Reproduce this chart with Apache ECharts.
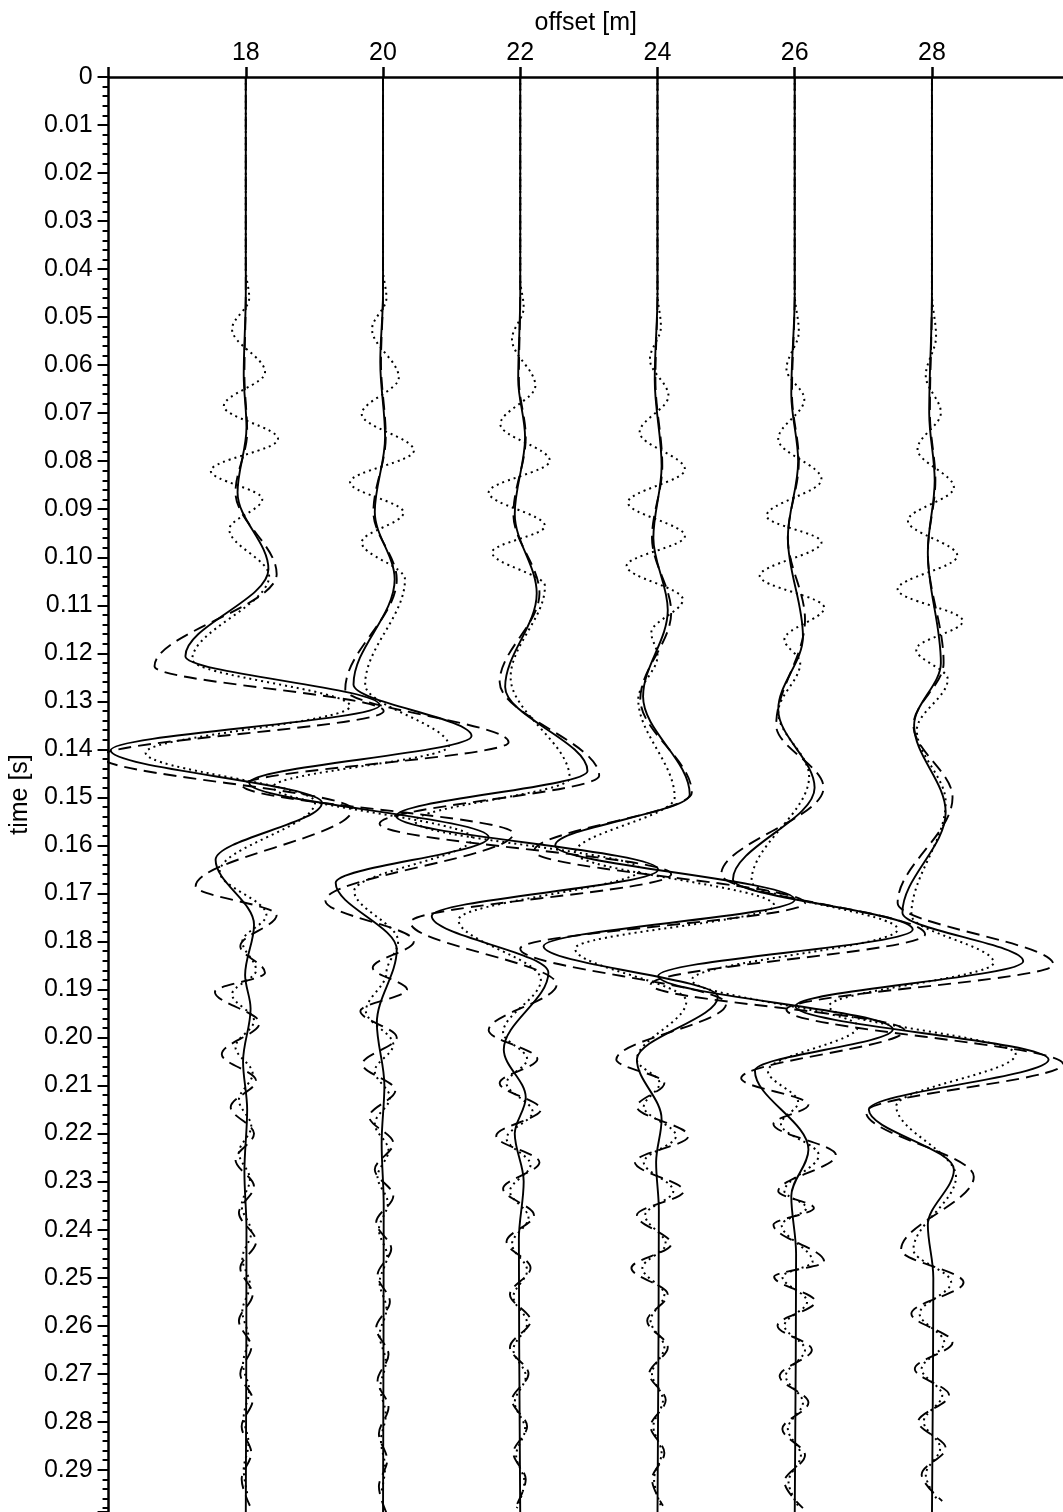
<!DOCTYPE html>
<html>
<head>
<meta charset="utf-8">
<script src="https://cdn.jsdelivr.net/npm/echarts@6/dist/echarts.min.js"></script>
<style>
  html, body { margin: 0; padding: 0; background: #fff; }
  #chart { width: 1063px; height: 1512px; }
</style>
</head>
<body>
<div id="chart"></div>
<script>
// Receiver offsets (m) and the tick labels of the offset axis
const offsets = [18, 20, 22, 24, 26, 28];
const offsetTicks = [18, 20, 22, 24, 26, 28];

// Each wiggle is a list of [time (s), deflection (m)] turning points.
// Solid: recorded trace, dashed and dotted: the two modelled traces.
const solid18 = [[0,0],[0.045,0],[0.062,-0.03],[0.073,0.01],[0.0865,-0.12],[0.1025,0.33],[0.1206,-0.88],[0.1308,1.95],[0.1402,-1.97],[0.1511,1.11],[0.163,-0.44],[0.1765,0.12],[0.187,-0.01],[0.194,0.07],[0.205,-0.04],[0.215,0.02],[0.228,-0.02],[0.24,0.01],[0.3,0]];
const dash18 = [[0,0],[0.045,0],[0.062,-0.02],[0.074,0.02],[0.0865,-0.15],[0.1035,0.45],[0.1227,-1.33],[0.132,2.01],[0.1415,-2.12],[0.1525,1.55],[0.1685,-0.73],[0.1745,0.45],[0.181,-0.08],[0.1865,0.28],[0.1905,-0.45],[0.197,0.2],[0.2035,-0.35],[0.209,0.15],[0.2145,-0.22],[0.22,0.12],[0.2255,-0.15],[0.231,0.12],[0.2365,-0.1],[0.2425,0.15],[0.248,-0.08],[0.2535,0.1],[0.259,-0.1],[0.2645,0.08],[0.27,-0.08],[0.2755,0.1],[0.281,-0.06],[0.2865,0.08],[0.292,-0.06],[0.2975,0.06]];
const dot18 = [[0,0],[0.04,0],[0.046,0.05],[0.0525,-0.2],[0.0615,0.28],[0.0685,-0.32],[0.0754,0.47],[0.082,-0.51],[0.0879,0.24],[0.0942,-0.24],[0.1039,0.34],[0.1213,-0.78],[0.131,1.52],[0.1407,-1.46],[0.151,1.01],[0.1655,-0.38],[0.1745,0.3],[0.18,-0.05],[0.186,0.15],[0.191,-0.2],[0.1965,0.12],[0.202,-0.15],[0.2075,0.1],[0.213,-0.1],[0.2185,0.08],[0.224,-0.1],[0.2295,0.06],[0.235,-0.06],[0.2405,0.08],[0.246,-0.05],[0.2515,0.06],[0.257,-0.05],[0.2625,0.04],[0.268,-0.04],[0.2735,0.05],[0.279,-0.03],[0.2845,0.04],[0.29,-0.03],[0.2955,0.03]];

const solid20 = [[0,0],[0.045,0],[0.0594,-0.04],[0.075,0.03],[0.0906,-0.12],[0.1046,0.17],[0.1265,-0.43],[0.1372,1.29],[0.147,-1.95],[0.1583,1.54],[0.1678,-0.69],[0.1817,0.2],[0.197,-0.09],[0.21,0.02],[0.222,-0.02],[0.235,0.01],[0.3,0]];
const dash20 = [[0,0],[0.045,0],[0.0594,-0.03],[0.075,0.04],[0.0906,-0.14],[0.1046,0.2],[0.1275,-0.55],[0.1385,1.83],[0.1475,-2.05],[0.1575,1.9],[0.1715,-0.84],[0.18,0.45],[0.1855,-0.15],[0.19,0.35],[0.1945,-0.33],[0.2,0.2],[0.2055,-0.3],[0.211,0.18],[0.2165,-0.2],[0.222,0.15],[0.2275,-0.12],[0.233,0.15],[0.2385,-0.1],[0.244,0.12],[0.2495,-0.08],[0.255,0.1],[0.2605,-0.1],[0.266,0.08],[0.2715,-0.08],[0.277,0.08],[0.2825,-0.06],[0.288,0.06],[0.2935,-0.06],[0.299,0.05]];
const dot20 = [[0,0],[0.04,0],[0.046,0.05],[0.0525,-0.16],[0.0626,0.23],[0.0702,-0.31],[0.0778,0.45],[0.0844,-0.48],[0.0907,0.3],[0.0969,-0.31],[0.1046,0.32],[0.1265,-0.26],[0.1393,0.96],[0.1478,-1.6],[0.1585,1.3],[0.1695,-0.42],[0.18,0.22],[0.1865,0.05],[0.1945,-0.25],[0.2015,0.15],[0.207,-0.12],[0.2125,0.1],[0.218,-0.12],[0.2235,0.08],[0.229,-0.08],[0.2345,0.07],[0.24,-0.06],[0.2455,0.06],[0.251,-0.05],[0.2565,0.05],[0.262,-0.05],[0.2675,0.04],[0.273,-0.04],[0.2785,0.04],[0.284,-0.03],[0.2895,0.03],[0.295,-0.03]];

const solid22 = [[0,0],[0.045,0],[0.063,-0.03],[0.075,0.07],[0.091,-0.08],[0.1075,0.24],[0.127,-0.22],[0.1445,0.98],[0.1539,-1.81],[0.165,2.01],[0.1747,-1.29],[0.1865,0.41],[0.2025,-0.24],[0.2125,0.08],[0.22,-0.08],[0.23,0.05],[0.242,-0.02],[0.3,0]];
const dash22 = [[0,0],[0.045,0],[0.063,-0.02],[0.075,0.08],[0.091,-0.1],[0.1075,0.28],[0.126,-0.3],[0.1455,1.15],[0.1555,-2.05],[0.166,2.2],[0.176,-1.6],[0.189,0.53],[0.1985,-0.46],[0.2045,0.25],[0.2095,-0.3],[0.215,0.3],[0.2205,-0.35],[0.226,0.28],[0.2315,-0.25],[0.237,0.2],[0.2425,-0.2],[0.248,0.15],[0.2535,-0.15],[0.259,0.15],[0.2645,-0.15],[0.27,0.12],[0.2755,-0.12],[0.281,0.1],[0.2865,-0.1],[0.292,0.08],[0.2975,-0.06]];
const dot22 = [[0,0],[0.042,0],[0.048,0.05],[0.0546,-0.12],[0.0643,0.22],[0.0723,-0.29],[0.0799,0.43],[0.0865,-0.46],[0.0935,0.36],[0.099,-0.41],[0.106,0.36],[0.125,-0.14],[0.146,0.72],[0.155,-1.53],[0.165,1.75],[0.1755,-0.9],[0.188,0.3],[0.199,-0.25],[0.2045,0.1],[0.2095,-0.2],[0.2155,0.18],[0.221,-0.2],[0.2265,0.15],[0.232,-0.15],[0.2375,0.12],[0.243,-0.12],[0.2485,0.1],[0.254,-0.1],[0.2595,0.1],[0.265,-0.1],[0.2705,0.08],[0.276,-0.08],[0.2815,0.07],[0.287,-0.06],[0.2925,0.06],[0.298,-0.05]];

const solid24 = [[0,0],[0.045,0],[0.063,-0.04],[0.081,0.06],[0.096,-0.06],[0.111,0.15],[0.129,-0.21],[0.1494,0.47],[0.16,-1.49],[0.1713,2.0],[0.181,-1.66],[0.1915,0.88],[0.2046,-0.3],[0.217,0.06],[0.226,-0.02],[0.236,0.02],[0.3,0]];
const dash24 = [[0,0],[0.045,0],[0.063,-0.03],[0.081,0.07],[0.096,-0.08],[0.1115,0.2],[0.1295,-0.25],[0.149,0.5],[0.1612,-1.8],[0.172,2.15],[0.1815,-2.0],[0.193,1.0],[0.2046,-0.6],[0.2095,0.1],[0.2144,-0.3],[0.2205,0.45],[0.226,-0.33],[0.232,0.38],[0.237,-0.3],[0.243,0.2],[0.248,-0.38],[0.2535,0.15],[0.259,-0.15],[0.2645,0.15],[0.27,-0.12],[0.2755,0.12],[0.281,-0.1],[0.2865,0.1],[0.292,-0.08],[0.2975,0.08]];
const dot24 = [[0,0],[0.045,0],[0.052,0.05],[0.0588,-0.11],[0.0664,0.16],[0.074,-0.26],[0.0817,0.4],[0.0886,-0.43],[0.0956,0.4],[0.1018,-0.45],[0.1088,0.37],[0.1157,-0.09],[0.1205,0.0],[0.1296,-0.28],[0.15,0.25],[0.1615,-1.2],[0.1725,1.7],[0.1815,-1.2],[0.1925,0.42],[0.2046,-0.3],[0.2095,0.03],[0.2144,-0.2],[0.2205,0.27],[0.226,-0.2],[0.232,0.23],[0.237,-0.18],[0.243,0.12],[0.248,-0.22],[0.2535,0.1],[0.259,-0.1],[0.2645,0.1],[0.27,-0.08],[0.2755,0.08],[0.281,-0.06],[0.2865,0.06],[0.292,-0.05],[0.2975,0.05]];

const solid26 = [[0,0],[0.045,0],[0.066,-0.05],[0.08,0.05],[0.096,-0.1],[0.1165,0.12],[0.1317,-0.24],[0.148,0.29],[0.1671,-0.9],[0.1775,1.72],[0.1872,-1.99],[0.1983,1.43],[0.2069,-0.58],[0.2233,0.2],[0.233,-0.05],[0.245,0.02],[0.3,0]];
const dash26 = [[0,0],[0.045,0],[0.066,-0.04],[0.08,0.06],[0.096,-0.1],[0.113,0.15],[0.135,-0.27],[0.148,0.42],[0.166,-1.07],[0.1785,1.9],[0.189,-2.1],[0.1985,1.6],[0.2085,-0.78],[0.214,0.2],[0.218,-0.31],[0.2245,0.6],[0.232,-0.24],[0.2355,0.28],[0.239,-0.31],[0.2467,0.43],[0.2498,-0.3],[0.255,0.3],[0.26,-0.25],[0.265,0.25],[0.2705,-0.22],[0.276,0.2],[0.2815,-0.18],[0.287,0.15],[0.2925,-0.15],[0.298,0.12]];
const dot26 = [[0,0],[0.045,0],[0.053,0.06],[0.0608,-0.12],[0.0671,0.14],[0.0754,-0.24],[0.0838,0.39],[0.0914,-0.41],[0.0969,0.39],[0.1039,-0.51],[0.1105,0.43],[0.1171,-0.15],[0.122,0.08],[0.1323,-0.24],[0.1456,0.21],[0.1675,-0.63],[0.1775,1.5],[0.188,-1.5],[0.1977,0.92],[0.207,-0.39],[0.2135,0.05],[0.218,-0.2],[0.2245,0.35],[0.232,-0.15],[0.2355,0.17],[0.239,-0.19],[0.2467,0.26],[0.2498,-0.18],[0.255,0.18],[0.26,-0.15],[0.265,0.15],[0.2705,-0.13],[0.276,0.12],[0.2815,-0.1],[0.287,0.09],[0.2925,-0.09],[0.298,0.07]];

const solid28 = [[0,0],[0.045,0],[0.07,-0.04],[0.084,0.04],[0.099,-0.06],[0.122,0.13],[0.135,-0.26],[0.1531,0.2],[0.174,-0.43],[0.1841,1.33],[0.1935,-1.99],[0.2046,1.7],[0.215,-0.92],[0.2275,0.32],[0.239,-0.06],[0.25,0.02],[0.3,0]];
const dash28 = [[0,0],[0.045,0],[0.07,-0.03],[0.084,0.05],[0.099,-0.06],[0.122,0.17],[0.135,-0.27],[0.15,0.3],[0.172,-0.5],[0.1848,1.77],[0.1942,-2.12],[0.2055,1.91],[0.2155,-0.96],[0.229,0.61],[0.2442,-0.45],[0.251,0.46],[0.2575,-0.3],[0.2635,0.3],[0.269,-0.25],[0.2745,0.25],[0.28,-0.2],[0.2855,0.2],[0.291,-0.15],[0.2965,0.15]];
const dot28 = [[0,0],[0.045,0],[0.054,0.06],[0.0622,-0.09],[0.0699,0.13],[0.0775,-0.21],[0.0855,0.32],[0.0924,-0.35],[0.0997,0.37],[0.1067,-0.5],[0.1133,0.45],[0.1192,-0.23],[0.1254,0.23],[0.136,-0.22],[0.151,0.2],[0.1745,-0.3],[0.1844,0.9],[0.1935,-1.5],[0.2035,1.22],[0.2143,-0.52],[0.229,0.35],[0.2442,-0.27],[0.251,0.28],[0.2575,-0.18],[0.2635,0.18],[0.269,-0.15],[0.2745,0.15],[0.28,-0.12],[0.2855,0.12],[0.291,-0.09],[0.2965,0.09]];

const solidTraces = [solid18, solid20, solid22, solid24, solid26, solid28];
const dashedTraces = [dash18, dash20, dash22, dash24, dash26, dash28];
const dottedTraces = [dot18, dot20, dot22, dot24, dot26, dot28];

const FONT = "'Liberation Sans', Arial, Helvetica, sans-serif";

// wiggle points placed at offset + deflection, time on the vertical axis
function wiggle(offset, pts) {
  return pts.map(p => [offset + p[1], p[0]]);
}

function lineSeries(data, lineType, width, z) {
  return {
    type: 'line',
    data: data,
    showSymbol: false,
    symbol: 'none',
    smooth: 0.35,
    smoothMonotone: 'y',
    silent: true,
    z: z,
    lineStyle: { color: '#000', width: width, type: lineType, cap: 'butt' }
  };
}

const series = [];
offsets.forEach((off, i) => {
  series.push(lineSeries(wiggle(off, dottedTraces[i]), [2, 4], 2, 2));
  series.push(lineSeries(wiggle(off, dashedTraces[i]), [13, 7], 1.9, 3));
  series.push(lineSeries(wiggle(off, solidTraces[i]), 'solid', 1.9, 4));
});

const chart = echarts.init(document.getElementById('chart'), null, { renderer: 'canvas' });
chart.setOption({
  animation: false,
  backgroundColor: '#fff',
  textStyle: { fontFamily: FONT },
  grid: { left: 106, top: 77, right: 0, bottom: 0, containLabel: false },
  xAxis: {
    type: 'value',
    position: 'top',
    min: 16,
    max: 29.91,
    interval: 2,
    name: 'offset [m]',
    nameLocation: 'middle',
    nameGap: 39,
    nameTextStyle: { fontSize: 25, color: '#000', fontFamily: FONT },
    axisLine: { show: true, lineStyle: { color: '#000', width: 2.5 } },
    axisTick: { show: true, length: 10, lineStyle: { color: '#000', width: 2.5 } },
    axisLabel: {
      color: '#000', fontSize: 25, fontFamily: FONT, margin: 11,
      showMaxLabel: false,
      formatter: v => (offsetTicks.indexOf(v) >= 0 ? String(v) : '')
    },
    splitLine: { show: false }
  },
  yAxis: {
    type: 'value',
    inverse: true,
    min: 0,
    max: 0.2988,
    interval: 0.01,
    name: 'time [s]',
    nameLocation: 'middle',
    nameGap: 61,
    nameTextStyle: { fontSize: 25, color: '#000', fontFamily: FONT },
    axisLine: { show: true, lineStyle: { color: '#000', width: 2.5 } },
    axisTick: { show: true, length: 11, lineStyle: { color: '#000', width: 2 } },
    minorTick: { show: true, splitNumber: 5, length: 6, lineStyle: { color: '#000', width: 2 } },
    axisLabel: {
      color: '#000', fontSize: 25, fontFamily: FONT, margin: 16,
      formatter: v => (v === 0 ? '0' : (v > 0.295 ? '' : v.toFixed(2)))
    },
    splitLine: { show: false },
    minorSplitLine: { show: false }
  },
  series: series
});
</script>
</body>
</html>
